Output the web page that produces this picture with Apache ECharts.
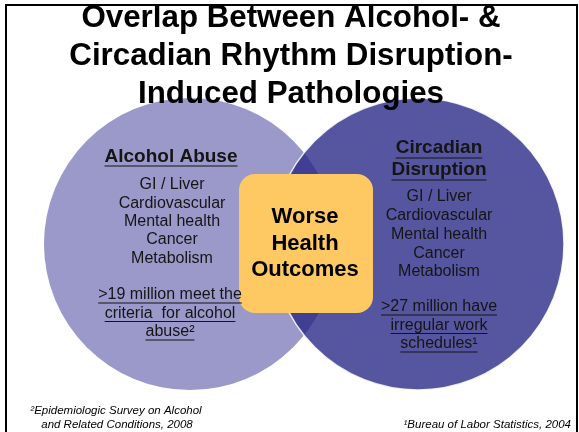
<!DOCTYPE html>
<html><head><meta charset="utf-8">
<script src="https://cdn.jsdelivr.net/npm/echarts@6/dist/echarts.min.js"></script>
<style>html,body{margin:0;padding:0;background:#fff}#c{width:579px;height:432px}</style>
</head><body><div id="c"></div>
<script>
// ---- content ----
const titleLines = ['Overlap Between Alcohol- &', 'Circadian Rhythm Disruption-', 'Induced Pathologies'];
const leftHeading = ['Alcohol Abuse'];
const rightHeading = ['Circadian', 'Disruption'];
const pathologies = ['GI / Liver', 'Cardiovascular', 'Mental health', 'Cancer', 'Metabolism'];
const leftStat = ['>19 million meet the', 'criteria  for alcohol', 'abuse\u00B2'];
const rightStat = ['>27 million have', 'irregular work', 'schedules\u00B9'];
const centerLines = ['Worse', 'Health', 'Outcomes'];
const leftNote = ['\u00B2Epidemiologic Survey on Alcohol', 'and Related Conditions, 2008'];
const rightNote = ['\u00B9Bureau of Labor Statistics, 2004'];
// circle sets: [cx, cy, r] in diagram units
const sets = [[190, 244, 146], [418, 244, 146]];

// ---- layout / style ----
const FONT = '"Liberation Sans", Arial, sans-serif';
const chart = echarts.init(document.getElementById('c'), null, {renderer: 'canvas'});
const mctx = document.createElement('canvas').getContext('2d');
function tw(text, font) { mctx.font = font; return mctx.measureText(text).width; }

const graphics = [];
function addText(text, x, y, size, weight, opts) {
  opts = opts || {};
  const font = (opts.italic ? 'italic ' : '') + (weight || 'normal') + ' ' + size + 'px ' + FONT;
  const align = opts.align || 'center';
  graphics.push({type: 'text', x: x, y: y, z: 10,
    style: {text: text, font: font, fill: opts.color || '#151515', align: align, verticalAlign: 'middle',
      textAlign: align, textVerticalAlign: 'middle'}});
  if (opts.underline) {
    const w = tw(text, font);
    const x0 = align === 'center' ? x - w / 2 : (align === 'right' ? x - w : x);
    const uy = y + opts.underline;
    graphics.push({type: 'line', z: 10, shape: {x1: x0, y1: uy, x2: x0 + w, y2: uy},
      style: {stroke: '#151515', lineWidth: 1.2}});
  }
}
// title
titleLines.forEach((t, i) => addText(t, 291, 18 + i * 38, 31.3, 'bold', {color: '#000'}));
// left circle
addText(leftHeading[0], 171, 157, 19, 'bold', {underline: 9});
pathologies.forEach((t, i) => addText(t, 172, 185 + i * 18.3, 16, 'normal'));
leftStat.forEach((t, i) => addText(t, 170, 295 + i * 18.5, 16, 'normal', {underline: 8}));
// right circle
rightHeading.forEach((t, i) => addText(t, 439, 148 + i * 22, 19, 'bold', {underline: 10}));
pathologies.forEach((t, i) => addText(t, 439, 197 + i * 18.7, 16, 'normal'));
rightStat.forEach((t, i) => addText(t, 439, 307 + i * 18.5, 16, 'normal', {underline: 8}));
// center box
graphics.push({type: 'rect', z: 5, shape: {x: 239, y: 174, width: 134, height: 139, r: 16},
  style: {fill: '#fec862'}});
centerLines.forEach((t, i) => addText(t, 305, 217 + i * 26.5, 22, 'bold', {color: '#000'}));
// footnotes
addText(leftNote[0], 116, 411, 11.5, 'normal', {italic: true, color: '#000'});
addText(leftNote[1], 117, 425, 11.5, 'normal', {italic: true, color: '#000'});
addText(rightNote[0], 571, 425, 11.5, 'normal', {italic: true, color: '#000', align: 'right'});
// top margin mask + frame
graphics.push({type: 'rect', z: 15, shape: {x: 0, y: 0, width: 579, height: 5}, style: {fill: '#fff'}});
graphics.push({type: 'rect', z: 20, shape: {x: 6, y: 5, width: 571, height: 440},
  style: {fill: 'none', stroke: '#000', lineWidth: 2}});

function lensPoly(c1, c2) {
  const dx = c2.x - c1.x, dy = c2.y - c1.y, d = Math.hypot(dx, dy);
  const a = (c1.r * c1.r - c2.r * c2.r + d * d) / (2 * d);
  const ang1 = Math.acos(Math.min(1, a / c1.r));
  const ang2 = Math.acos(Math.min(1, (d - a) / c2.r));
  const b1 = Math.atan2(dy, dx), b2 = Math.atan2(-dy, -dx);
  const pts = [], N = 60;
  for (let i = 0; i <= N; i++) { const t = b1 - ang1 + 2 * ang1 * i / N; pts.push([c1.x + c1.r * Math.cos(t), c1.y + c1.r * Math.sin(t)]); }
  for (let i = 0; i <= N; i++) { const t = b2 - ang2 + 2 * ang2 * i / N; pts.push([c2.x + c2.r * Math.cos(t), c2.y + c2.r * Math.sin(t)]); }
  return pts;
}

const fills = ['#9a99ca', '#56559f'];
chart.setOption({
  animation: false,
  grid: {left: 0, right: 0, top: 0, bottom: 0},
  xAxis: {type: 'value', min: 0, max: 579, show: false},
  yAxis: {type: 'value', min: 0, max: 432, inverse: true, show: false},
  series: [{
    type: 'custom',
    coordinateSystem: 'cartesian2d',
    data: [[0]],
    renderItem: function (params, api) {
      const px = sets.map(s => {
        const p = api.coord([s[0], s[1]]);
        const r = api.size([s[2], 0])[0];
        return {x: p[0], y: p[1], r: r};
      });
      return {type: 'group', children: [
        {type: 'circle', shape: {cx: px[0].x, cy: px[0].y, r: px[0].r}, style: {fill: fills[0]}},
        {type: 'circle', shape: {cx: px[1].x, cy: px[1].y, r: px[1].r}, style: {fill: fills[1]}},
        {type: 'polygon', shape: {points: lensPoly(px[0], px[1])}, style: {fill: '#403f93'}},
        {type: 'circle', shape: {cx: px[1].x, cy: px[1].y, r: px[1].r}, style: {fill: 'none', stroke: 'rgba(255,255,255,0.85)', lineWidth: 1.5}}
      ]};
    }
  }],
  graphic: graphics
});
</script></body></html>
